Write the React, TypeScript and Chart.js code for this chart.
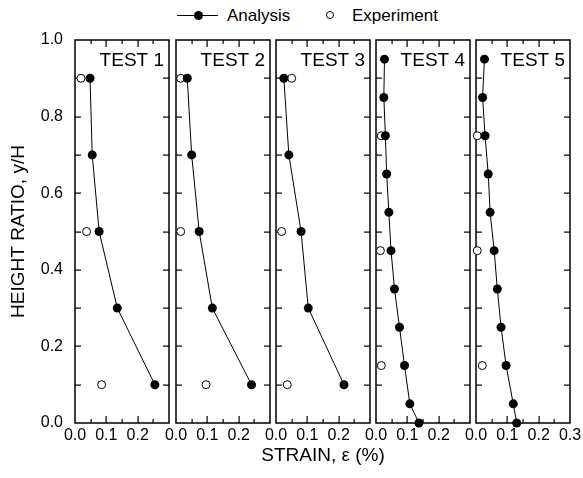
import { useEffect, useRef } from 'react';
import { Chart, registerables } from 'chart.js';

Chart.register(...registerables);

const FONT = "'Liberation Sans', Arial, Helvetica, sans-serif";

// Height ratios y/H of the computed profiles and of the gauge readings
const heightsCoarse = [0.9, 0.7, 0.5, 0.3, 0.1];
const heightsFine = [0.95, 0.85, 0.75, 0.65, 0.55, 0.45, 0.35, 0.25, 0.15, 0.05, 0.0];
const gaugeHeightsA = [0.9, 0.5, 0.1];
const gaugeHeightsB = [0.75, 0.45, 0.15];

// Strain (%) per test: analysis profile and measured values
const analysis1 = [0.048, 0.055, 0.077, 0.135, 0.255];
const experiment1 = [0.019, 0.037, 0.085];
const analysis2 = [0.036, 0.05, 0.074, 0.116, 0.241];
const experiment2 = [0.015, 0.015, 0.096];
const analysis3 = [0.025, 0.041, 0.08, 0.103, 0.217];
const experiment3 = [0.05, 0.018, 0.036];
const analysis4 = [0.027, 0.025, 0.03, 0.034, 0.041, 0.048, 0.059, 0.075, 0.091, 0.108, 0.137];
const experiment4 = [0.017, 0.014, 0.017];
const analysis5 = [0.027, 0.021, 0.029, 0.039, 0.045, 0.058, 0.068, 0.08, 0.096, 0.119, 0.13];
const experiment5 = [0.004, 0.004, 0.02];

const testNames = ['TEST 1', 'TEST 2', 'TEST 3', 'TEST 4', 'TEST 5'];

const yTicks = [0, 0.2, 0.4, 0.6, 0.8, 1.0];
const yTickLabels = ['0.0', '0.2', '0.4', '0.6', '0.8', '1.0'];
const xTicks = [0, 0.1, 0.2, 0.3];
const xTickLabels = ['0.0', '0.1', '0.2', '0.3'];

// Inner tick marks on the frame of every panel
const xMarks = [0.05, 0.1, 0.15, 0.2, 0.25];
const xMajorMarks = [0.1, 0.2];
const yMarks = [0.1, 0.2, 0.3, 0.4, 0.5, 0.6, 0.7, 0.8, 0.9];

const panels = [
  { name: testNames[0], heights: heightsCoarse, analysis: analysis1, gaugeHeights: gaugeHeightsA, experiment: experiment1 },
  { name: testNames[1], heights: heightsCoarse, analysis: analysis2, gaugeHeights: gaugeHeightsA, experiment: experiment2 },
  { name: testNames[2], heights: heightsCoarse, analysis: analysis3, gaugeHeights: gaugeHeightsA, experiment: experiment3 },
  { name: testNames[3], heights: heightsFine, analysis: analysis4, gaugeHeights: gaugeHeightsB, experiment: experiment4 },
  { name: testNames[4], heights: heightsFine, analysis: analysis5, gaugeHeights: gaugeHeightsB, experiment: experiment5 },
];

// Layout of the five side-by-side plot frames
const PANEL_LEFTS = [75, 176, 276, 376, 476];
const PANEL_W = 94;
const AREA_TOP = 40;
const AREA_H = 383;
const SIDE = 20;
const TOP_PAD = 28;
const X_AXIS_H = 45;
const Y_AXIS_W = 75;

// Frame, inward tick marks and the test name, drawn under the data marks
const framePlugin = {
  id: 'frame',
  beforeDatasetsDraw(chart: any, _args: any, opts: any) {
    const { ctx, chartArea: a, scales } = chart;
    const x = scales.x;
    const y = scales.y;
    ctx.save();
    ctx.strokeStyle = '#000';
    ctx.lineWidth = 1.5;
    ctx.strokeRect(a.left, a.top, a.right - a.left, a.bottom - a.top);
    ctx.fillStyle = '#000';
    for (const v of xMarks) {
      const px = Math.round(x.getPixelForValue(v));
      const len = xMajorMarks.includes(v) ? 7 : 4;
      ctx.fillRect(px - 0.5, a.bottom - len, 1.2, len);
      ctx.fillRect(px - 0.5, a.top, 1.2, len);
    }
    for (const v of yMarks) {
      const py = Math.round(y.getPixelForValue(v));
      ctx.fillRect(a.left, py - 0.5, 6, 1.2);
      ctx.fillRect(a.right - 6, py - 0.5, 6, 1.2);
    }
    ctx.font = `19px ${FONT}`;
    ctx.textAlign = 'right';
    ctx.textBaseline = 'middle';
    ctx.fillText(opts.label, a.right - 5, a.top + 21);
    ctx.restore();
  },
};

function Panel({ idx }: { idx: number }) {
  const ref = useRef<HTMLCanvasElement>(null);
  const first = idx === 0;
  const last = idx === 4;
  const canvasLeft = first ? 0 : PANEL_LEFTS[idx] - SIDE;
  const width = first ? Y_AXIS_W + PANEL_W + SIDE : SIDE * 2 + PANEL_W;
  const height = TOP_PAD + AREA_H + X_AXIS_H;

  useEffect(() => {
    const p = panels[idx];
    const chart = new Chart(ref.current as HTMLCanvasElement, {
      type: 'scatter',
      data: {
        datasets: [
          {
            label: 'Analysis',
            data: p.heights.map((h, i) => ({ x: p.analysis[i], y: h })),
            showLine: true,
            borderColor: '#000',
            borderWidth: 1,
            pointRadius: 4.5,
            pointBackgroundColor: '#000',
            pointBorderColor: '#000',
            pointBorderWidth: 0,
            clip: false,
          } as any,
          {
            label: 'Experiment',
            data: p.gaugeHeights.map((h, i) => ({ x: p.experiment[i], y: h })),
            showLine: false,
            pointRadius: 4,
            pointBackgroundColor: '#fff',
            pointBorderColor: '#000',
            pointBorderWidth: 1,
            clip: false,
          } as any,
        ],
      },
      options: {
        responsive: false,
        animation: false,
        devicePixelRatio: 1,
        layout: { padding: { left: first ? 0 : SIDE, right: SIDE, top: TOP_PAD, bottom: 0 } },
        plugins: {
          legend: { display: false },
          tooltip: { enabled: false },
          frame: { label: p.name },
        } as any,
        scales: {
          x: {
            type: 'linear',
            min: 0,
            max: 0.3,
            afterBuildTicks: (s: any) => {
              s.ticks = xTicks.map((v) => ({ value: v }));
            },
            afterFit: (s: any) => {
              s.height = X_AXIS_H;
            },
            ticks: {
              autoSkip: false,
              maxRotation: 0,
              padding: 3,
              color: '#000',
              font: { size: 16, family: FONT },
              callback: (_v: any, i: number) => (last || i < 3 ? xTickLabels[i] : ''),
            },
            grid: { display: false, drawTicks: false },
            border: { display: false },
          },
          y: {
            type: 'linear',
            display: first,
            min: 0,
            max: 1,
            afterBuildTicks: (s: any) => {
              s.ticks = yTicks.map((v) => ({ value: v }));
            },
            afterFit: (s: any) => {
              s.width = first ? Y_AXIS_W : 0;
            },
            ticks: {
              padding: 12,
              color: '#000',
              font: { size: 16, family: FONT },
              callback: (_v: any, i: number) => yTickLabels[i],
            },
            grid: { display: false, drawTicks: false },
            border: { display: false },
            title: {
              display: true,
              text: 'HEIGHT RATIO, y/H',
              color: '#000',
              font: { size: 19, family: FONT },
              padding: { top: 7, bottom: 0 },
            },
          },
        },
      } as any,
      plugins: [framePlugin as any],
    });
    return () => chart.destroy();
  }, [idx]);

  return (
    <canvas
      ref={ref}
      width={width}
      height={height}
      style={{ position: 'absolute', left: canvasLeft, top: AREA_TOP - TOP_PAD, width, height }}
    />
  );
}

function Legend() {
  const text: React.CSSProperties = {
    position: 'absolute',
    top: 6,
    fontFamily: FONT,
    fontSize: 17,
    lineHeight: '20px',
    color: '#000',
    whiteSpace: 'nowrap',
  };
  return (
    <>
      <div style={{ position: 'absolute', left: 177, top: 15, width: 41, height: 1, background: '#000' }} />
      <div style={{ position: 'absolute', left: 193.5, top: 11, width: 9, height: 9, borderRadius: '50%', background: '#000' }} />
      <div style={{ ...text, left: 227 }}>Analysis</div>
      <div
        style={{
          position: 'absolute',
          left: 326,
          top: 11,
          width: 6,
          height: 6,
          borderRadius: '50%',
          border: '1px solid #000',
          background: '#fff',
        }}
      />
      <div style={{ ...text, left: 352 }}>Experiment</div>
    </>
  );
}

export default function App() {
  return (
    <div style={{ position: 'fixed', left: 0, top: 0, width: 583, height: 478, background: '#fff', overflow: 'hidden' }}>
      <Legend />
      {panels.map((_, i) => (
        <Panel key={i} idx={i} />
      ))}
      <div
        style={{
          position: 'absolute',
          left: 223,
          width: 200,
          top: 443,
          textAlign: 'center',
          fontFamily: FONT,
          fontSize: 19,
          lineHeight: '24px',
          color: '#000',
        }}
      >
        STRAIN, ε (%)
      </div>
    </div>
  );
}
